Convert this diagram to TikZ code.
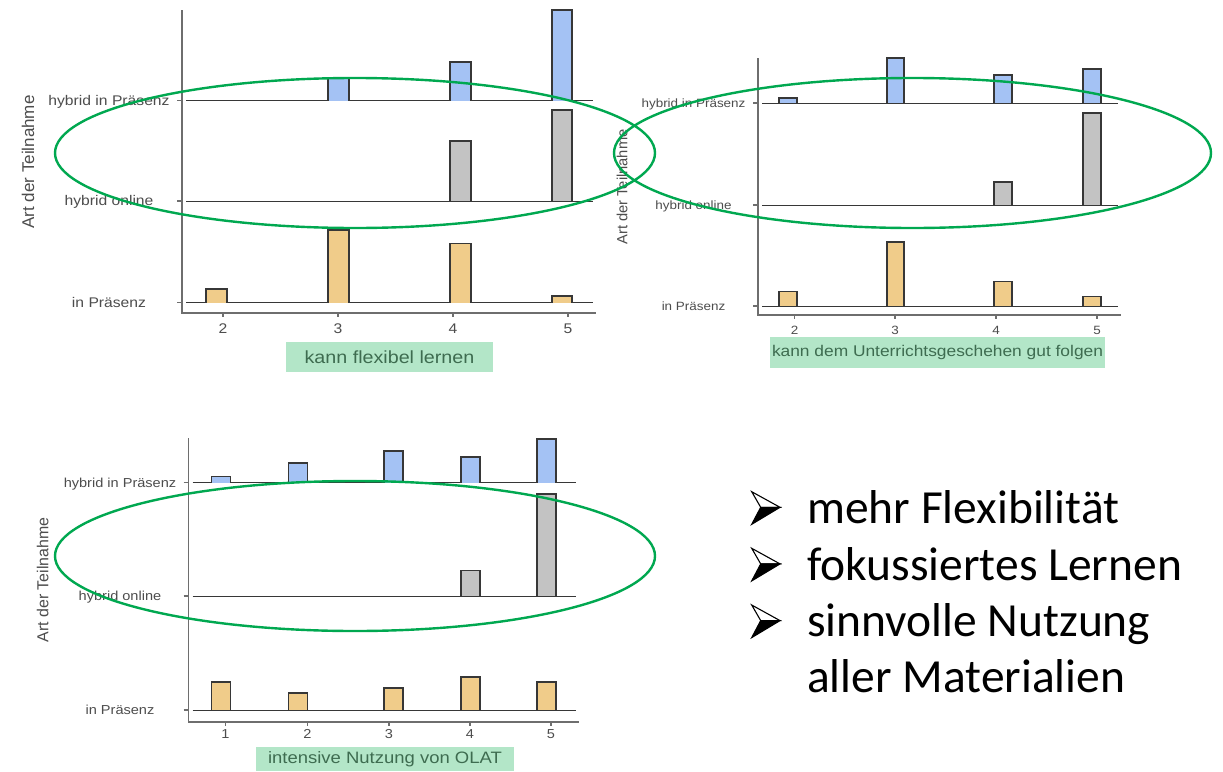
\documentclass[tikz,border=0pt]{standalone}
\usepackage{fontspec}
\usetikzlibrary{shapes.geometric}
\newfontfamily\plotfont{Liberation Sans}[FakeStretch=1.12]
\newfontfamily\axisfont{Liberation Sans}
\newfontfamily\bulletfont{Carlito}
\definecolor{hybridcolor}{RGB}{164,194,244}
\definecolor{onlinecolor}{RGB}{195,195,195}
\definecolor{presencecolor}{RGB}{240,204,138}
\definecolor{ringcolor}{RGB}{0,168,80}
\definecolor{boxcolor}{RGB}{179,230,200}
\definecolor{boxtextcolor}{RGB}{62,108,80}
\definecolor{labelcolor}{RGB}{77,77,77}
\definecolor{axiscolor}{RGB}{110,110,110}
\definecolor{barline}{RGB}{55,55,55}

% font sizes of the three panels
\newcommand{\fontA}{\plotfont\fontsize{14}{16}\selectfont}
\newcommand{\fontB}{\plotfont\fontsize{12}{14}\selectfont}
\newcommand{\fontC}{\plotfont\fontsize{13}{15}\selectfont}

% bars of one ridge: style, baseline, list of left/right/top
\newcommand{\ridgebars}[3]{%
  \foreach \xa/\xb/\ytop in {#3}
    \path[#1] (\xa,#2) |- (\xb,\ytop) -- (\xb,#2);%
}

% arrow bullet, top corner at #1
\newcommand{\arrowbullet}[1]{%
  \begin{scope}[shift={#1}]
    \filldraw[fill=white, draw=black, line width=1.1pt, line join=miter] (0,0) -- (28.3,15.6) -- (9,15.6) -- cycle;
    \filldraw[black, line width=1.1pt, line join=miter] (9,15.6) -- (28.3,15.6) -- (0,32.6) -- cycle;
  \end{scope}}

\begin{document}
\begin{tikzpicture}[
    x=1pt, y=-1pt,
    axis/.style={axiscolor, line width=1.2pt},
    ridgeline/.style={barline, line width=1pt},
    hybridbar/.style={draw=barline, fill=hybridcolor, line width=1.1pt},
    onlinebar/.style={draw=barline, fill=onlinecolor, line width=1.1pt},
    presencebar/.style={draw=barline, fill=presencecolor, line width=1.1pt},
    catlabel/.style={labelcolor, inner sep=0pt, anchor=mid, yshift=-2.5pt},
    ticklabel/.style={labelcolor, inner sep=0pt},
    ylab/.style={labelcolor, rotate=90, inner sep=0pt},
    titlebox/.style={fill=boxcolor, text=boxtextcolor, inner sep=0pt},
    ring/.style={draw=ringcolor, line width=2.4pt, ellipse, inner sep=0pt},
    bullettext/.style={anchor=base west, inner sep=0pt, font=\bulletfont\fontsize{47.5}{56}\selectfont}
]
    \fill[white] (0,0) rectangle (1223,771);
    \useasboundingbox (0,0) rectangle (1223,771);

    % panel A: kann flexibel lernen
    \draw[axis] (182,10) -- (182,313) -- (596,313);
    \foreach \yb in {100.5,201,302.7} \draw[axis] (177,\yb) -- (182,\yb);
    \foreach \xt/\lab in {223/2,338/3,453/4,568/5} {
        \draw[axis] (\xt,313) -- (\xt,317);
        \node[ticklabel, font=\fontA] (tickA\lab) at (\xt,329) {\lab};
    }
    \node[catlabel, font=\fontA] (hipA) at (109,100.5) {hybrid in Präsenz};
    \node[catlabel, font=\fontA] (honA) at (109,201) {hybrid online};
    \node[catlabel, font=\fontA] (ipA) at (109,302.7) {in Präsenz};
    \node[ylab, font=\axisfont\fontsize{17}{19}\selectfont] (ylabA) at (28,162) {Art der Teilnahme};
    \foreach \yb in {100.5,201,302.7} \draw[ridgeline] (186,\yb) -- (593,\yb);
    \ridgebars{hybridbar}{100.5}{328/349/78, 450/471/62, 552/572/10}
    \ridgebars{onlinebar}{201}{450/471/141, 552/572/110}
    \ridgebars{presencebar}{302.7}{206/227/289, 328/349/230, 450/471/243.5, 552/572/296}
    \node[titlebox, minimum width=207pt, minimum height=30pt, font=\plotfont\fontsize{17.6}{20}\selectfont] (titleA) at (389.5,357) {kann flexibel lernen};

    % panel B: kann dem Unterrichtsgeschehen gut folgen
    \draw[axis] (758,58) -- (758,315) -- (1121,315);
    \foreach \yb in {103,205,306} \draw[axis] (753,\yb) -- (758,\yb);
    \foreach \xt/\lab in {794.5/2,895/3,996/4,1097/5} {
        \draw[axis] (\xt,315) -- (\xt,319);
        \node[ticklabel, font=\fontB] (tickB\lab) at (\xt,330) {\lab};
    }
    \node[catlabel, font=\fontB] (hipB) at (693.5,103) {hybrid in Präsenz};
    \node[catlabel, font=\fontB] (honB) at (693.5,205) {hybrid online};
    \node[catlabel, font=\fontB] (ipB) at (693.5,306) {in Präsenz};
    \node[ylab, font=\axisfont\fontsize{14.7}{17}\selectfont] (ylabB) at (622,187) {Art der Teilnahme};
    \foreach \yb in {103,205,306} \draw[ridgeline] (762,\yb) -- (1118,\yb);
    \ridgebars{hybridbar}{103}{779/797/98, 887/904/58, 994/1012/75, 1083/1101/69}
    \ridgebars{onlinebar}{205}{994/1012/182, 1083/1101/113}
    \ridgebars{presencebar}{306}{779/797/291.7, 887/904/242, 994/1012/281.7, 1083/1101/296.7}
    \node[titlebox, minimum width=335pt, minimum height=30.5pt, font=\plotfont\fontsize{15.5}{18}\selectfont] (titleB) at (937.5,352.7) {kann dem Unterrichtsgeschehen gut folgen};

    % panel C: intensive Nutzung von OLAT
    \draw[axis] (188.5,438) -- (188.5,722) -- (579,722);
    \foreach \yb in {482.7,596,710} \draw[axis] (183.5,\yb) -- (188.5,\yb);
    \foreach \xt/\lab in {225.3/1,307.5/2,389/3,470/4,551/5} {
        \draw[axis] (\xt,722) -- (\xt,726);
        \node[ticklabel, font=\fontC] (tickC\lab) at (\xt,734) {\lab};
    }
    \node[catlabel, font=\fontC] (hipC) at (120,482.7) {hybrid in Präsenz};
    \node[catlabel, font=\fontC] (honC) at (120,596) {hybrid online};
    \node[catlabel, font=\fontC] (ipC) at (120,710) {in Präsenz};
    \node[ylab, font=\axisfont\fontsize{15.9}{18}\selectfont] (ylabC) at (42.7,580) {Art der Teilnahme};
    \foreach \yb in {482.7,596,710} \draw[ridgeline] (192.5,\yb) -- (576,\yb);
    \ridgebars{hybridbar}{482.7}{211.5/230.5/476.7, 288.5/307.5/463, 384/403/451, 461/480/457, 537/556/439}
    \ridgebars{onlinebar}{596}{461/480/570.7, 537/556/494}
    \ridgebars{presencebar}{710}{211.5/230.5/682, 288.5/307.5/693, 384/403/688, 461/480/677, 537/556/682}
    \node[titlebox, minimum width=258pt, minimum height=24pt, font=\plotfont\fontsize{16.5}{19}\selectfont] (titleC) at (385,759.2) {intensive Nutzung von OLAT};

    % green rings
    \node[ring, minimum width=600pt, minimum height=150pt] (ringA) at (355,153) {};
    \node[ring, minimum width=597pt, minimum height=150pt] (ringB) at (912.5,153) {};
    \node[ring, minimum width=600pt, minimum height=150pt] (ringC) at (355,556) {};

    % summary list
    \arrowbullet{(751.7,491.7)}
    \arrowbullet{(751.7,548.3)}
    \arrowbullet{(751.7,605)}
    \node[bullettext] (flex) at (807,523.3) {mehr Flexibilität};
    \node[bullettext] (focus) at (807,580) {fokussiertes Lernen};
    \node[bullettext] (usage) at (807,636.7) {sinnvolle Nutzung};
    \node[bullettext] (material) at (807,692) {aller Materialien};
\end{tikzpicture}
\end{document}
